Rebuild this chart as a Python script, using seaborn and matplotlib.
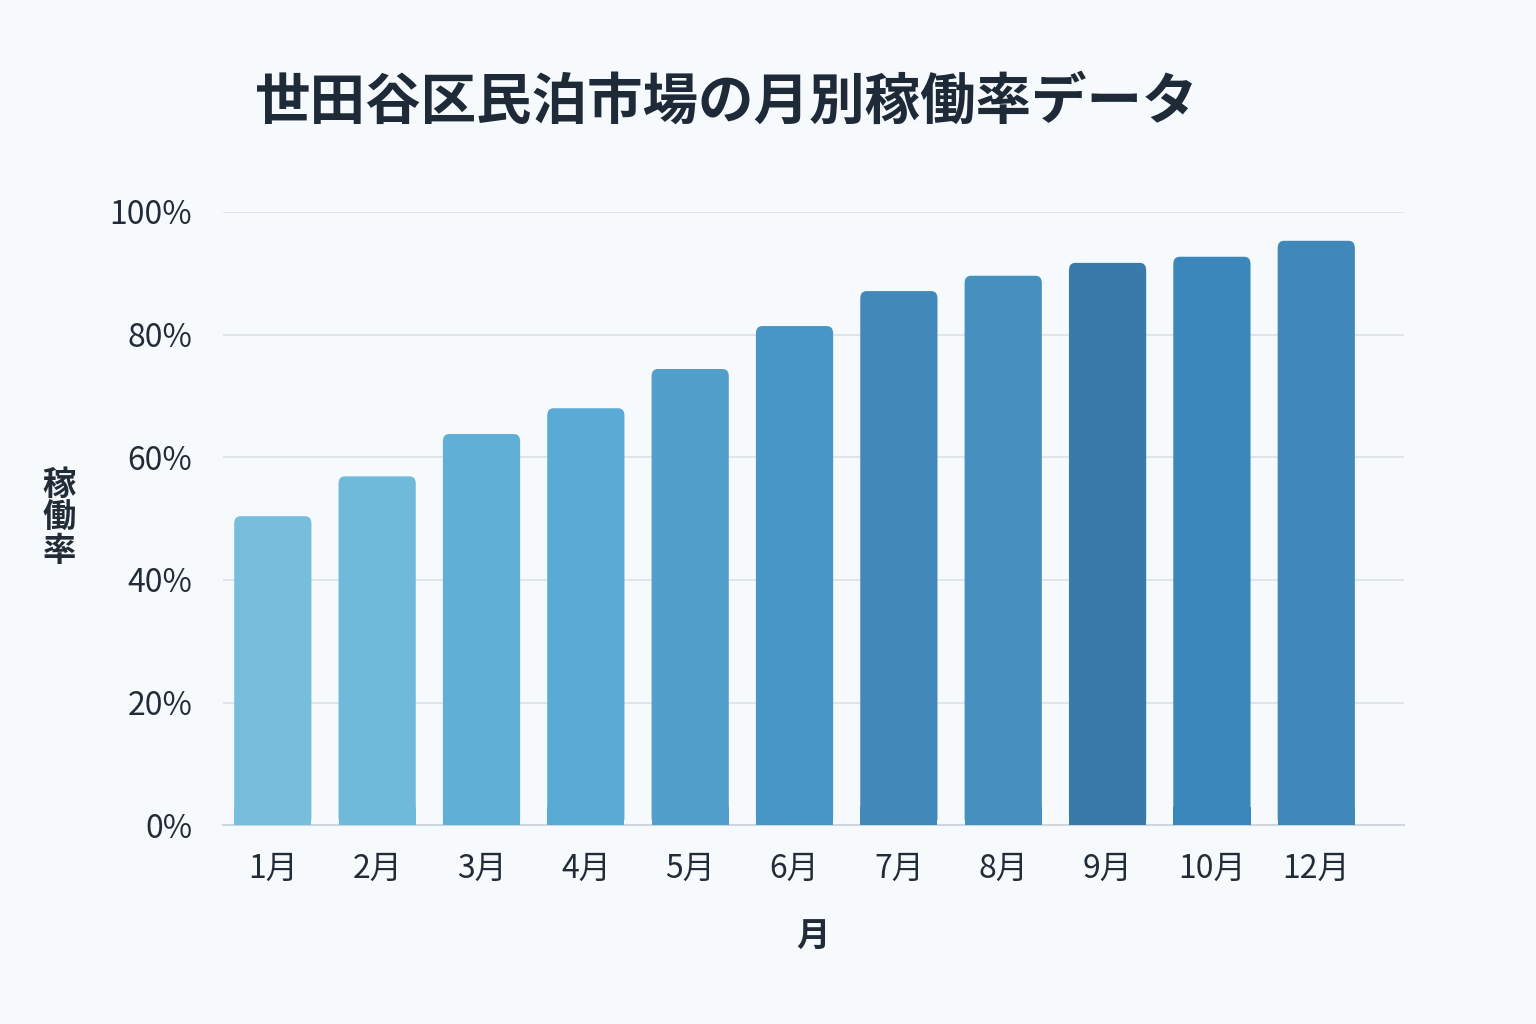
import matplotlib
matplotlib.use("Agg")
import matplotlib.pyplot as plt
import seaborn as sns
import pandas as pd
from matplotlib.patches import FancyBboxPatch

months = ["1月", "2月", "3月", "4月", "5月", "6月", "7月", "8月", "9月", "10月", "12月"]
rates = [50.4, 56.9, 63.8, 68.0, 74.4, 81.4, 87.1, 89.6, 91.7, 92.7, 95.3]
colors = ["#77bedd", "#6fb9db", "#5fafd6", "#59aad4", "#529fcc", "#4896c6", "#4289b9",
          "#4690bf", "#3a7aab", "#3b87bb", "#4088b9"]
yticks = [0, 20, 40, 60, 80, 100]
ytick_labels = ["0%", "20%", "40%", "60%", "80%", "100%"]

plt.rcParams["font.family"] = ["Noto Sans CJK JP"]
bg = "#f7fafc"
fig = plt.figure(figsize=(15.36, 10.24), dpi=100, facecolor=bg)
ax = fig.add_axes([0.145, 0.194, 0.769, 0.599], facecolor=bg)

df = pd.DataFrame({"month": months, "rate": rates})
sns.barplot(data=df, x="month", y="rate", hue="month", palette=colors, legend=False,
            width=0.74, saturation=1, ax=ax, zorder=3)

# replace bars with rounded-top versions
for p in list(ax.patches):
    x, y, w, h = p.get_x(), p.get_y(), p.get_width(), p.get_height()
    c = p.get_facecolor()
    p.remove()
    ax.add_patch(FancyBboxPatch((x, y), w, h, boxstyle="round,pad=0,rounding_size=0.06",
                                mutation_aspect=1 / 0.06 * 1.2, facecolor=c, edgecolor="none", zorder=3))
    ax.add_patch(plt.Rectangle((x, y), w, min(h, 3), facecolor=c, edgecolor="none", zorder=3))

ax.set_ylim(0, 100)
ax.set_xlim(-0.48, 10.84)
ax.set_yticks(yticks)
ax.set_yticklabels(ytick_labels)
ax.grid(axis="y", color="#dde3ea", linewidth=1.3, zorder=0)
for s in ["top", "right", "left"]:
    ax.spines[s].set_visible(False)
ax.spines["bottom"].set_color("#cfd6de")
ax.spines["bottom"].set_linewidth(1.5)
ax.tick_params(axis="both", length=0, labelsize=23, colors="#222c38")
ax.tick_params(axis="x", pad=20)
ax.tick_params(axis="y", pad=22)
ax.set_xlabel("月", fontsize=24, fontweight="bold", color="#222c38", labelpad=26)
ax.set_ylabel("稼\n働\n率", fontsize=24, fontweight="bold", color="#222c38",
              rotation=0, va="center", labelpad=36, linespacing=1.0)
fig.text(0.166, 0.9, "世田谷区民泊市場の月別稼働率データ", fontsize=40, fontweight="bold",
         color="#1e2a38", va="center", ha="left")

fig.savefig("out.png", dpi=100, facecolor=bg)
